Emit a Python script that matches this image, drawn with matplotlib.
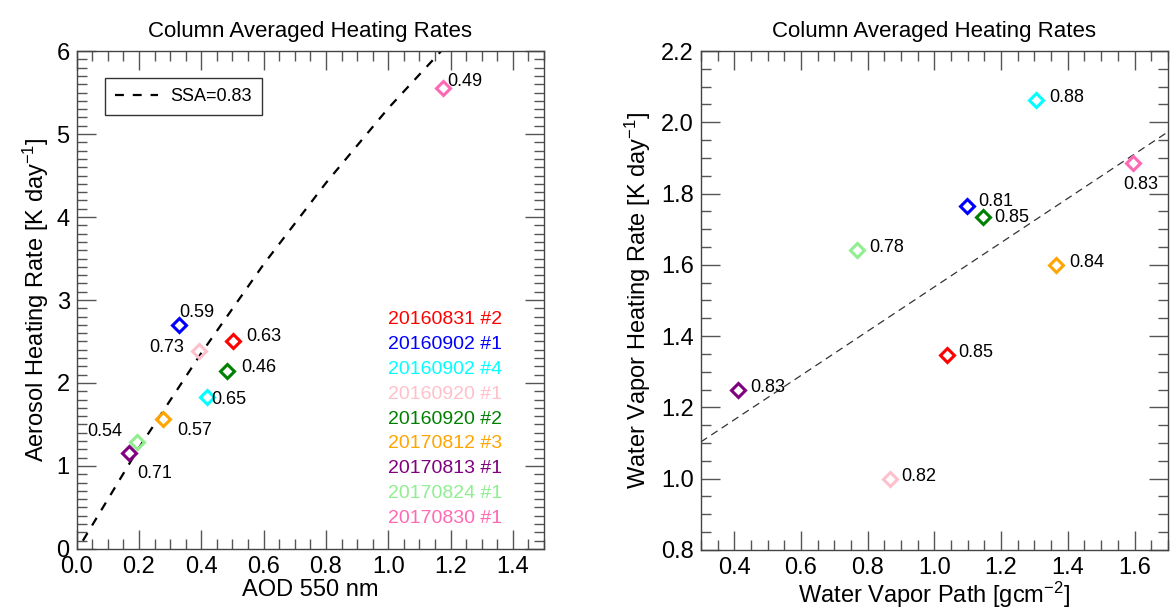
import matplotlib
matplotlib.use("Agg")
import matplotlib.pyplot as plt
from matplotlib.ticker import MultipleLocator, FormatStrFormatter
from matplotlib.lines import Line2D

plt.rcParams['font.family'] = ['Liberation Sans', 'DejaVu Sans']
plt.rcParams['mathtext.default'] = 'regular'

# ---- data ----
flights = ['20160831 #2', '20160902 #1', '20160902 #4', '20160920 #1', '20160920 #2',
           '20170812 #3', '20170813 #1', '20170824 #1', '20170830 #1']
colors = ['#FF0000', '#0000FF', '#00FFFF', '#FFC0CB', '#008000',
          '#FFA500', '#800080', '#90EE90', '#FF69B4']

# left panel: AOD vs aerosol heating rate
aod = [0.501, 0.329, 0.417, 0.394, 0.484, 0.278, 0.168, 0.194, 1.177]
aer_hr = [2.51, 2.70, 1.835, 2.39, 2.14, 1.566, 1.16, 1.293, 5.56]
aer_ssa = ['0.63', '0.59', '0.65', '0.73', '0.46', '0.57', '0.71', '0.54', '0.49']

# SSA=0.83 reference curve
ssa_aod = [0.02, 0.2, 0.4, 0.6, 0.8, 1.0, 1.17]
ssa_hr = [0.1, 1.22, 2.36, 3.43, 4.41, 5.31, 6.0]

# right panel: water vapor path vs water vapor heating rate
wvp = [1.037, 1.097, 1.306, 0.868, 1.146, 1.366, 0.410, 0.768, 1.595]
wv_hr = [1.346, 1.765, 2.062, 0.999, 1.734, 1.600, 1.248, 1.642, 1.887]
wv_ssa = ['0.85', '0.81', '0.88', '0.82', '0.85', '0.84', '0.83', '0.78', '0.83']

fit_wvp = [0.3, 1.7]
fit_hr = [1.103, 1.973]

# label offsets (points)
aer_off = [(10, 3), (0, 9), (3, -2), (-36, 2), (10, 3), (10, -8), (6, -15), (-36, 7), (3, 4)]
wv_off = [(8, 2), (8, 3), (9, 2), (8, 2), (8, 0), (9, 2), (9, 2), (9, 2), (-7, -16)]

fig = plt.figure(figsize=(11.72, 6.11), dpi=100)
ax1 = fig.add_axes([0.0654, 0.1015, 0.3988, 0.815])
ax2 = fig.add_axes([0.598, 0.1000, 0.3985, 0.8165])

tick_col = '#555555'
for ax in (ax1, ax2):
    ax.tick_params(which='both', direction='in', top=True, right=True, colors='black',
                   labelsize=17, pad=5)
    ax.tick_params(which='major', length=14, width=1.0, color=tick_col)
    ax.tick_params(which='minor', length=7, width=1.0, color=tick_col)
    for s in ax.spines.values():
        s.set_color('#444444')
        s.set_linewidth(1.0)

# left
ax1.plot(ssa_aod, ssa_hr, linestyle=(0, (4, 4)), color='black', linewidth=1.6)
for x, y, c, t, o in zip(aod, aer_hr, colors, aer_ssa, aer_off):
    ax1.plot(x, y, marker='D', ms=7, mfc='none', mec=c, mew=2.2, linestyle='none')
    ax1.annotate(t, (x, y), xytext=o, textcoords='offset points', fontsize=13,
                 ha='left', va='center')
ax1.set_xlim(0, 1.5)
ax1.set_ylim(0, 6)
ax1.xaxis.set_major_locator(MultipleLocator(0.2))
ax1.xaxis.set_minor_locator(MultipleLocator(0.05))
ax1.yaxis.set_major_locator(MultipleLocator(1))
ax1.yaxis.set_minor_locator(MultipleLocator(0.1))
ax1.xaxis.set_major_formatter(FormatStrFormatter('%.1f'))
ax1.set_xlabel('AOD 550 nm', fontsize=17, labelpad=1)
ax1.set_ylabel('Aerosol Heating Rate [K day$^{-1}$]', fontsize=17, labelpad=4)
ax1.set_title('Column Averaged Heating Rates', fontsize=16, pad=10)

h = Line2D([], [], linestyle=(0, (4, 4)), color='black', linewidth=1.6)
leg = ax1.legend([h], ['SSA=0.83'], loc='upper left', bbox_to_anchor=(0.06, 0.945),
                 borderaxespad=0, fontsize=13, frameon=True, fancybox=False,
                 edgecolor='black', handlelength=2.4, handletextpad=0.7, borderpad=0.55)
leg.get_frame().set_linewidth(1.0)

for i, (name, c) in enumerate(zip(flights, colors)):
    ax1.text(0.667, 0.461 - i * 0.05, name, color=c, fontsize=14,
             transform=ax1.transAxes, ha='left', va='center')

# right
ax2.plot(fit_wvp, fit_hr, linestyle=(0, (6, 4)), color='#333333', linewidth=0.9)
for x, y, c, t, o in zip(wvp, wv_hr, colors, wv_ssa, wv_off):
    ax2.plot(x, y, marker='D', ms=7, mfc='none', mec=c, mew=2.2, linestyle='none')
    ax2.annotate(t, (x, y), xytext=o, textcoords='offset points', fontsize=13,
                 ha='left', va='center')
ax2.set_xlim(0.3, 1.7)
ax2.set_ylim(0.8, 2.2)
ax2.xaxis.set_major_locator(MultipleLocator(0.2))
ax2.xaxis.set_minor_locator(MultipleLocator(0.05))
ax2.yaxis.set_major_locator(MultipleLocator(0.2))
ax2.yaxis.set_minor_locator(MultipleLocator(0.05))
ax2.xaxis.set_major_formatter(FormatStrFormatter('%.1f'))
ax2.yaxis.set_major_formatter(FormatStrFormatter('%.1f'))
ax2.set_xlabel('Water Vapor Path [gcm$^{-2}$]', fontsize=17, labelpad=1)
ax2.set_ylabel('Water Vapor Heating Rate [K day$^{-1}$]', fontsize=17, labelpad=6)
ax2.set_title('Column Averaged Heating Rates', fontsize=16, pad=10)

fig.savefig('out.png', dpi=100)
